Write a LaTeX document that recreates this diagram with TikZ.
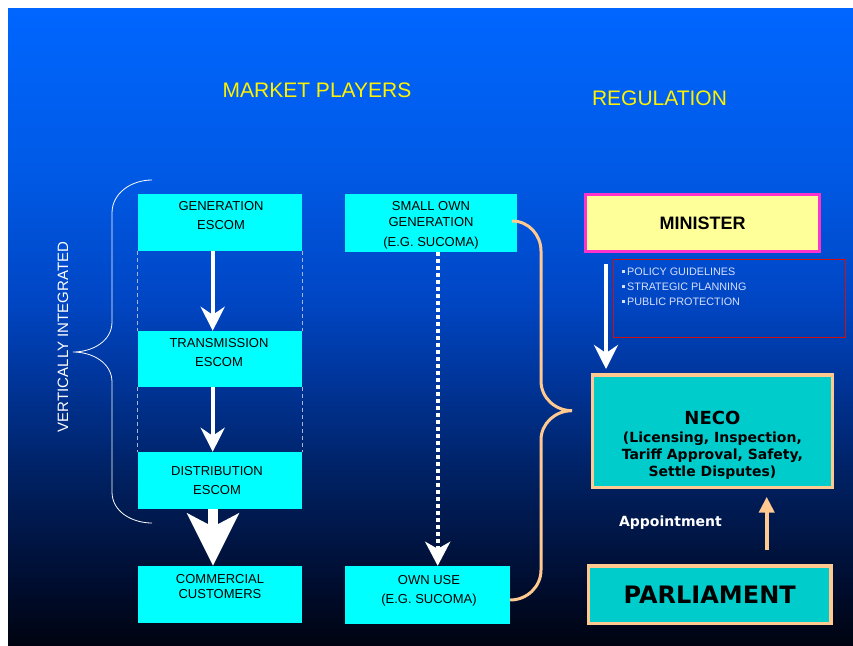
\documentclass[tikz,border=0pt]{standalone}
\usepackage{fontspec}
\setmainfont{Liberation Sans}
\newfontfamily\verd{DejaVu Sans}
\usetikzlibrary{arrows.meta}
\definecolor{bgA}{HTML}{0066FF}
\definecolor{bgB}{HTML}{005AE6}
\definecolor{bgC}{HTML}{0046C4}
\definecolor{bgD}{HTML}{00379F}
\definecolor{bgE}{HTML}{002060}
\definecolor{bgF}{HTML}{000C2C}
\definecolor{bgG}{HTML}{000410}
\definecolor{boxcyan}{HTML}{00FFFF}
\definecolor{teal0}{HTML}{00CCCC}
\definecolor{peach}{HTML}{FFC990}
\definecolor{paleyellow}{HTML}{FFFF99}
\definecolor{magenta0}{HTML}{FF33CC}
\definecolor{redline}{HTML}{D01010}
\definecolor{bullettxt}{HTML}{D8E0FF}
\definecolor{dashgray}{HTML}{A8B4D8}
\pgfdeclareverticalshading{bgshade}{100bp}{color(0bp)=(bgG); color(25bp)=(bgG); color(29.3bp)=(bgF); color(38bp)=(bgE); color(46.6bp)=(bgD); color(52.1bp)=(bgC); color(62.3bp)=(bgB); color(75bp)=(bgA); color(100bp)=(bgA)}
\newcommand\sqbullet{\rule[2.2pt]{3pt}{3pt}\hspace{2pt}}
\tikzset{
  cbox/.style={fill=boxcyan, draw=none, inner sep=0pt},
  ctext/.style={text=black, align=center, inner sep=0pt, font=\fontsize{13}{15.3}\selectfont},
  wArrow/.style={draw=white, line width=4pt, -{Stealth[length=24pt,width=24pt,inset=8pt]}},
  title/.style={text=yellow, inner sep=0pt, font=\fontsize{21}{24}\selectfont},
}
\begin{document}
\begin{tikzpicture}[x=1pt,y=-1pt]
\useasboundingbox (0,0) rectangle (853,645);
\fill[white] (0,0) rectangle (853,645);
\shade[shading=bgshade] (8,8) rectangle (853,645);

% titles
\node[title] (mp) at (317,90.5) {MARKET PLAYERS};
\node[title] (reg) at (659.5,98.5) {REGULATION};

% left column
\node[cbox, minimum width=164pt, minimum height=57pt] (gen) at (220,222.5) {};
\node[cbox, minimum width=164pt, minimum height=56pt] (trans) at (220,359) {};
\node[cbox, minimum width=164pt, minimum height=57pt] (dist) at (220,480.5) {};
\node[cbox, minimum width=164pt, minimum height=57pt] (comm) at (220,594.5) {};
\node[ctext] (genT) at (221,215.5) {GENERATION\\[3.7pt]ESCOM};
\node[ctext] (transT) at (219,352.3) {TRANSMISSION\\[3.4pt]ESCOM};
\node[ctext] (distT) at (217,480.5) {DISTRIBUTION\\[3.7pt]ESCOM};
\node[ctext] (commT) at (220,586.4) {COMMERCIAL\\CUSTOMERS};

% dashed sides between boxes
\draw[dashgray, line width=0.8pt, dash pattern=on 4pt off 3pt] (gen.south west) -- (trans.north west);
\draw[dashgray, line width=0.8pt, dash pattern=on 4pt off 3pt] (gen.south east) -- (trans.north east);
\draw[dashgray, line width=0.8pt, dash pattern=on 4pt off 3pt] (trans.south west) -- (dist.north west);
\draw[dashgray, line width=0.8pt, dash pattern=on 4pt off 3pt] (trans.south east) -- (dist.north east);

% arrows left column
\draw[wArrow] ([xshift=-7.3pt]gen.south) -- ([xshift=-7.3pt]trans.north);
\draw[wArrow] ([xshift=-7.3pt]trans.south) -- ([xshift=-7.3pt]dist.north);
\draw[white, line width=10pt, -{Stealth[length=52pt,width=51pt,inset=13pt]}] ([xshift=-7pt]dist.south) -- ([xshift=-7pt]comm.north);

% left brace
\draw[white, line width=0.8pt] (152,180) to[out=180,in=90] (112,213) -- (112,322) to[out=-90,in=0] (73,352)
  to[out=0,in=90] (112,382) -- (112,492) to[out=-90,in=180] (152,523);
\node[text=white, rotate=90, inner sep=0pt, font=\fontsize{15}{18}\selectfont] (vi) at (63,337) {VERTICALLY INTEGRATED};

% middle column
\node[cbox, minimum width=172pt, minimum height=58pt] (small) at (431,223) {};
\node[cbox, minimum width=165pt, minimum height=58pt] (own) at (427.5,595) {};
\node[ctext] (smallT) at (431,225.3) {SMALL OWN\\GENERATION\\[4.5pt](E.G. SUCOMA)};
\node[ctext] (ownT) at (429,591) {OWN USE\\[3.7pt](E.G. SUCOMA)};
\draw[white, line width=4pt, dash pattern=on 4pt off 3pt, -{Stealth[length=24pt,width=25pt,inset=7pt]}] ([xshift=6.7pt]small.south) -- ([xshift=10.2pt]own.north);

% peach brace
\draw[peach, line width=3pt] ([xshift=-5pt,yshift=2pt]small.east) to[out=0,in=90] (541,251) -- (541,381) to[out=-90,in=180] (572,410.7)
  to[out=180,in=90] (541,440) -- (541,570) to[out=-90,in=0] ([yshift=-5pt]own.east);

% right column
\node[fill=paleyellow, draw=magenta0, line width=3pt, minimum width=234pt, minimum height=57pt, inner sep=0pt,
      font=\bfseries\fontsize{18}{20}\selectfont] (minister) at (702.5,223) {\raisebox{-1.5pt}{MINISTER}};
\node[draw=redline, line width=1pt, minimum width=232.7pt, minimum height=78pt, inner sep=0pt] (redbox) at (729.4,298) {};
\node[anchor=north west, text=bullettxt, align=left, inner sep=0pt, font=\fontsize{10.8}{15}\selectfont] (bul) at (622,267.3)
  {\sqbullet POLICY GUIDELINES\\\sqbullet STRATEGIC PLANNING\\\sqbullet PUBLIC PROTECTION};
\node[fill=teal0, draw=peach, line width=3.5pt, minimum width=239.8pt, minimum height=112.5pt, inner sep=0pt] (neco) at (712.4,431) {};
\node[align=center, inner sep=0pt, text=black, font=\verd\bfseries\fontsize{14}{17}\selectfont] (necoT) at (712.4,445.2)
  {{\fontsize{18}{18}\selectfont NECO}\\[1.5pt](Licensing, Inspection,\\Tariff Approval, Safety,\\Settle Disputes)};
\node[fill=teal0, draw=peach, line width=3.5pt, minimum width=242.5pt, minimum height=57.5pt, inner sep=0pt,
      font=\verd\bfseries\fontsize{24}{26}\selectfont] (parl) at (709.7,594.5) {PARLIAMENT};
\node[text=white, inner sep=0pt, font=\verd\bfseries\fontsize{14}{16}\selectfont] (appt) at (670.4,523) {Appointment};

\draw[wArrow, shorten <=11pt, shorten >=4pt] ([xshift=-96.5pt]minister.south) -- ([xshift=-106.4pt]neco.north);
\draw[peach, line width=4pt, -{Triangle[length=16pt,width=15pt]}, shorten <=14pt, shorten >=7.7pt] ([xshift=57pt]parl.north) -- ([xshift=54.3pt]neco.south);
\end{tikzpicture}
\end{document}
